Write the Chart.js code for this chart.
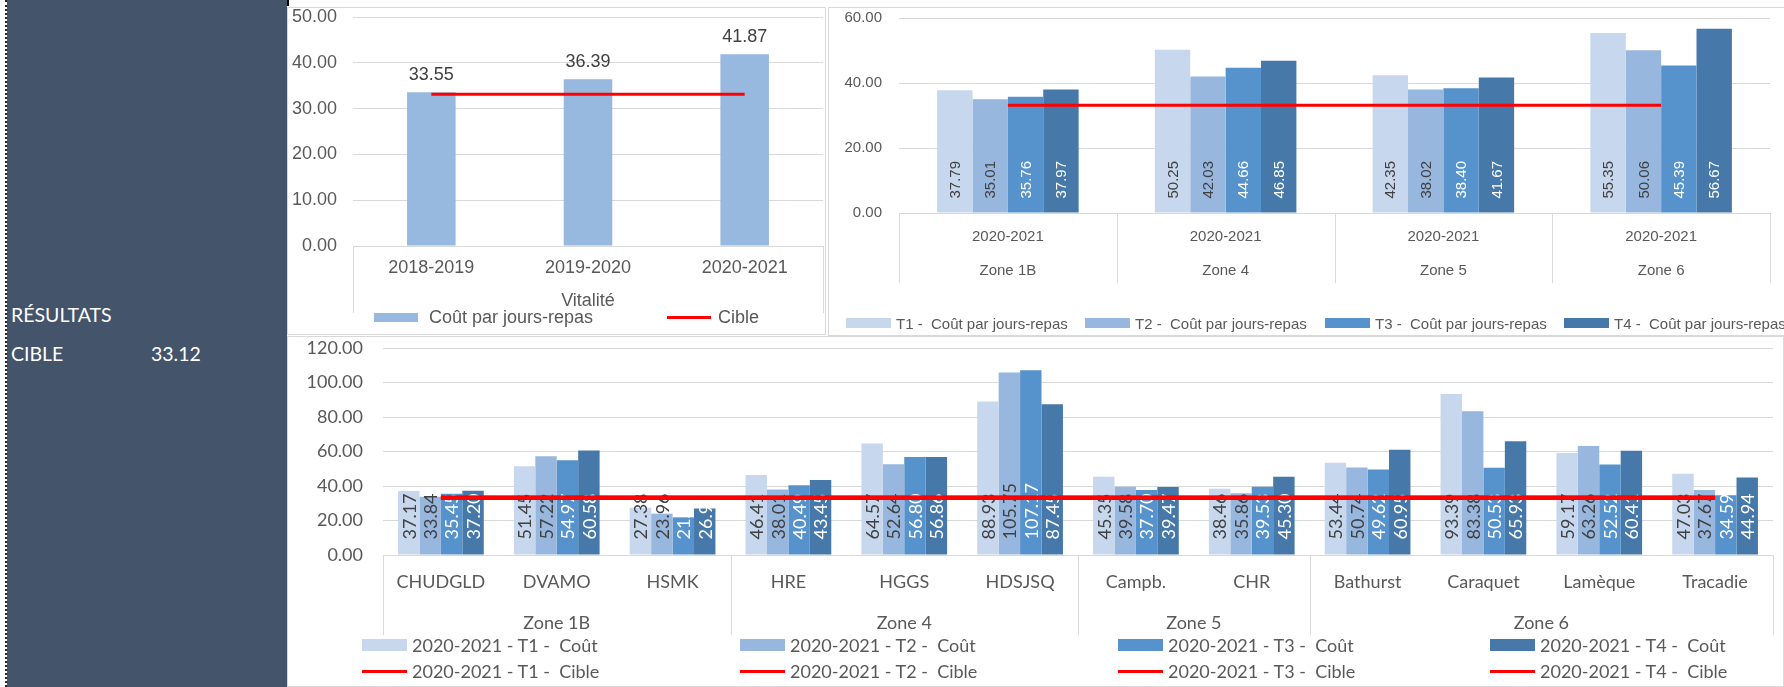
<!DOCTYPE html>
<html><head><meta charset="utf-8">
<script src="https://cdn.jsdelivr.net/npm/chart.js@4.4.0/dist/chart.umd.min.js"></script>
<style>
html,body{margin:0;padding:0;background:#fff;width:1784px;height:687px;overflow:hidden;position:relative;}
.box{position:absolute;border:1px solid #D9D9D9;box-sizing:border-box;background:#fff;}
canvas{position:absolute;}
.panel{position:absolute;left:7px;top:0;width:280px;height:687px;background:#44546A;}
.dots{position:absolute;left:5px;top:0;width:0;height:687px;border-left:2px dotted #222;}
.ptxt{position:absolute;color:#fff;font:19.5px Lato, sans-serif;line-height:24px;white-space:pre;}
.lg{position:absolute;display:flex;align-items:center;height:24px;white-space:pre;color:#595959;}
.lg span.sym{display:inline-block;}
</style></head>
<body>
<div class="dots"></div>
<div class="panel"></div>
<div style="position:absolute;left:287px;top:0;width:2px;height:6px;background:#000;"></div>
<div class="ptxt" id="pt1" style="left:11px;top:303px;">RÉSULTATS</div>
<div class="ptxt" id="pt2" style="left:11px;top:342px;">CIBLE</div>
<div class="ptxt" id="pt3" style="left:151px;top:342px;"></div>

<div class="box" style="left:287px;top:7px;width:539px;height:328px;"></div>
<div class="box" style="left:828px;top:7px;width:960px;height:329px;"></div>
<div class="box" style="left:287px;top:336px;width:1497px;height:351px;"></div>

<canvas id="c1" width="538" height="327" style="left:287px;top:7px;"></canvas>
<canvas id="c2" width="956" height="328" style="left:828px;top:7px;"></canvas>
<canvas id="c3" width="1497" height="351" style="left:287px;top:336px;"></canvas>

<script>
// ---------- DATA ----------
const TARGET = 33.12;

const chart1Categories = ['2018-2019', '2019-2020', '2020-2021'];
const chart1Groups = ['Vitalité', 'Vitalité', 'Vitalité'];
const chart1Cost = [33.55, 36.39, 41.87];
const chart1Target = [33.12, 33.12, 33.12];

const chart2Years = ['2020-2021', '2020-2021', '2020-2021', '2020-2021'];
const chart2Zones = ['Zone 1B', 'Zone 4', 'Zone 5', 'Zone 6'];
const chart2T1 = [37.79, 50.25, 42.35, 55.35];
const chart2T2 = [35.01, 42.03, 38.02, 50.06];
const chart2T3 = [35.76, 44.66, 38.40, 45.39];
const chart2T4 = [37.97, 46.85, 41.67, 56.67];
const chart2Target = [33.12, 33.12, 33.12, 33.12];

const chart3Sites = ['CHUDGLD', 'DVAMO', 'HSMK', 'HRE', 'HGGS', 'HDSJSQ', 'Campb.', 'CHR', 'Bathurst', 'Caraquet', 'Lamèque', 'Tracadie'];
const chart3Zones = ['Zone 1B', 'Zone 1B', 'Zone 1B', 'Zone 4', 'Zone 4', 'Zone 4', 'Zone 5', 'Zone 5', 'Zone 6', 'Zone 6', 'Zone 6', 'Zone 6'];
const chart3T1 = [37.17, 51.45, 27.38, 46.41, 64.57, 88.93, 45.35, 38.46, 53.44, 93.39, 59.17, 47.03];
const chart3T2 = [33.84, 57.22, 23.96, 38.01, 52.64, 105.75, 39.58, 35.86, 50.74, 83.38, 63.26, 37.67];
const chart3T3 = [35.45, 54.97, 21.83, 40.49, 56.80, 107.17, 37.70, 39.53, 49.62, 50.53, 52.52, 34.59];
const chart3T4 = [37.20, 60.58, 26.91, 43.45, 56.86, 87.45, 39.47, 45.30, 60.95, 65.93, 60.41, 44.94];
const chart3Target = [33.12, 33.12, 33.12, 33.12, 33.12, 33.12, 33.12, 33.12, 33.12, 33.12, 33.12, 33.12];

const chart1YTicks = {min: 0, max: 50, step: 10};
const chart2YTicks = {min: 0, max: 60, step: 20};
const chart3YTicks = {min: 0, max: 120, step: 20};

// ---------- STYLE ----------
const ARIAL = '"Liberation Sans", Arial, sans-serif';
const CALI = 'Lato, sans-serif';
const GRAY = '#595959';
const GRID = '#D9D9D9';
const RED = '#FF0000';
const C_V = '#97B8DF';
const C_T = ['#C7D7EE', '#97B7DF', '#5693CC', '#4679A9'];
const LBL_DARK = '#404040';

document.getElementById('pt3').textContent = TARGET.toFixed(2);

// ---------- PLUGINS ----------
const labelPlugin = {
  id: 'vlabels',
  afterDatasetDraw(chart, args) {
    const ds = chart.data.datasets[args.index];
    if (!ds.vlabel) return;
    const ctx = chart.ctx;
    ctx.save();
    ctx.font = ds.vlabel.font;
    ctx.fillStyle = ds.vlabel.color;
    args.meta.data.forEach((el, i) => {
      const txt = ds.data[i].toFixed(2);
      if (ds.vlabel.mode === 'above') {
        ctx.textAlign = 'center'; ctx.textBaseline = 'bottom';
        ctx.fillText(txt, el.x, el.y - ds.vlabel.gap);
      } else {
        ctx.save();
        ctx.translate(el.x, el.base - ds.vlabel.gap);
        ctx.rotate(-Math.PI / 2);
        ctx.textAlign = 'left'; ctx.textBaseline = 'middle';
        ctx.fillText(txt, 0, 1);
        ctx.restore();
      }
    });
    ctx.restore();
  }
};

function groupAxisPlugin(groups, cfg) {
  return {
    id: 'groupAxis',
    afterDraw(chart) {
      const x = chart.scales.x, ctx = chart.ctx;
      const n = chart.data.labels.length;
      const cw = x.width / n;
      const base = chart.chartArea.bottom;
      const runs = [];
      groups.forEach((name, i) => {
        if (!runs.length || runs[runs.length - 1].name !== name) runs.push({name, start: i, end: i});
        else runs[runs.length - 1].end = i;
      });
      ctx.save();
      ctx.strokeStyle = GRID; ctx.lineWidth = 1;
      const edges = new Set();
      runs.forEach(r => { edges.add(r.start); edges.add(r.end + 1); });
      edges.forEach(e => {
        const px = Math.round(x.left + e * cw) + 0.5;
        ctx.beginPath(); ctx.moveTo(px, base); ctx.lineTo(px, base + cfg.sepLen); ctx.stroke();
      });
      ctx.fillStyle = GRAY; ctx.font = cfg.font; ctx.textAlign = 'center'; ctx.textBaseline = 'middle';
      runs.forEach(r => {
        const cx = (x.getPixelForValue(r.start) + x.getPixelForValue(r.end)) / 2;
        ctx.fillText(r.name, cx, base + cfg.labelY);
      });
      ctx.restore();
    }
  };
}

function makeOptions(o) {
  return {
    responsive: false, animation: false, devicePixelRatio: 1,
    layout: {padding: o.padding},
    plugins: {legend: {display: false}, tooltip: {enabled: false}},
    scales: {
      x: {
        offset: true,
        ticks: {color: GRAY, font: o.xFont, padding: o.xPad, maxRotation: 0, autoSkip: false},
        grid: {display: false, drawTicks: false},
        border: {display: true, color: GRID, width: 1},
        afterFit(s) { s.height = o.xHeight; s.paddingLeft = 0; s.paddingRight = 0; }
      },
      y: {
        min: o.yt.min, max: o.yt.max,
        ticks: {stepSize: o.yt.step, color: GRAY, font: o.yFont, padding: o.yPad, callback: v => Number(v).toFixed(2)},
        grid: {color: GRID, lineWidth: 1, drawTicks: false},
        border: {display: false},
        afterFit(s) { s.width = o.yWidth; s.paddingTop = 0; s.paddingBottom = 0; }
      }
    }
  };
}

function lineDS(label, data, w) {
  return {type: 'line', label, data, borderColor: RED, backgroundColor: RED, borderWidth: w,
    pointRadius: 0, fill: false, order: 0, tension: 0};
}

// ---------- CHART 1 ----------
const ds1 = [
  {type: 'bar', label: 'Coût par jours-repas', data: chart1Cost, backgroundColor: C_V, order: 1,
   barPercentage: 0.31, categoryPercentage: 1.0,
   vlabel: {mode: 'above', font: '18px ' + ARIAL, color: LBL_DARK, gap: 8}},
  lineDS('Cible', chart1Target, 3)
];
new Chart(document.getElementById('c1'), {
  data: {labels: chart1Categories, datasets: ds1},
  options: makeOptions({padding: {left: 0, top: 10, right: 2, bottom: 0},
    xFont: {family: ARIAL, size: 18}, yFont: {family: ARIAL, size: 18},
    xPad: 11, yPad: 16, xHeight: 88, yWidth: 66, yt: chart1YTicks}),
  plugins: [labelPlugin, groupAxisPlugin(chart1Groups, {sepLen: 67, labelY: 55, font: '18px ' + ARIAL})]
});

// ---------- CHART 2 ----------
const t2 = [chart2T1, chart2T2, chart2T3, chart2T4];
const ds2 = t2.map((d, i) => ({
  type: 'bar', label: 'T' + (i + 1) + ' -  Coût par jours-repas', data: d, backgroundColor: C_T[i], order: 1,
  barPercentage: 1.0, categoryPercentage: 0.65,
  vlabel: {mode: 'base', font: '15px ' + ARIAL, color: i < 2 ? LBL_DARK : '#FFFFFF', gap: 14}
}));
ds2.push(lineDS('Cible', chart2Target, 3));
new Chart(document.getElementById('c2'), {
  data: {labels: chart2Years, datasets: ds2},
  options: makeOptions({padding: {left: 0, top: 11, right: 14, bottom: 0},
    xFont: {family: ARIAL, size: 15}, yFont: {family: ARIAL, size: 15},
    xPad: 15, yPad: 17, xHeight: 122, yWidth: 71, yt: chart2YTicks}),
  plugins: [labelPlugin, groupAxisPlugin(chart2Zones, {sepLen: 70, labelY: 58, font: '15px ' + ARIAL})]
});

// ---------- CHART 3 ----------
const t3 = [chart3T1, chart3T2, chart3T3, chart3T4];
const ds3 = t3.map((d, i) => ({
  type: 'bar', label: '2020-2021 - T' + (i + 1) + ' -  Coût', data: d, backgroundColor: C_T[i], order: 1,
  barPercentage: 1.0, categoryPercentage: 0.74,
  vlabel: {mode: 'base', font: '18px ' + CALI, color: i < 2 ? LBL_DARK : '#FFFFFF', gap: 15}
}));
const lines3 = [0, 1, 2, 3].map(i => lineDS('2020-2021 - T' + (i + 1) + ' -  Cible', chart3Target, 4));
new Chart(document.getElementById('c3'), {
  data: {labels: chart3Sites, datasets: ds3.concat(lines3)},
  options: makeOptions({padding: {left: 0, top: 12, right: 11, bottom: 0},
    xFont: {family: CALI, size: 18}, yFont: {family: CALI, size: 18},
    xPad: 16, yPad: 20, xHeight: 132, yWidth: 96, yt: chart3YTicks}),
  plugins: [labelPlugin, groupAxisPlugin(chart3Zones, {sepLen: 80, labelY: 68, font: '18px ' + CALI})]
});

// ---------- LEGENDS (HTML) ----------
function legendItem(x, cy, ds, o) {
  const d = document.createElement('div');
  d.className = 'lg';
  d.style.left = x + 'px'; d.style.top = (cy - 12) + 'px';
  d.style.font = o.font;
  const s = document.createElement('span');
  s.className = 'sym';
  const isLine = ds.type === 'line';
  s.style.width = o.w + 'px';
  s.style.height = (isLine ? o.lh : o.h) + 'px';
  s.style.background = isLine ? ds.borderColor : ds.backgroundColor;
  s.style.marginRight = o.gap + 'px';
  const t = document.createElement('span');
  t.textContent = ds.label;
  d.append(s, t);
  document.body.appendChild(d);
}
legendItem(374, 317, ds1[0], {font: '18px ' + ARIAL, w: 44, h: 9, lh: 3, gap: 11});
legendItem(667, 317, ds1[1], {font: '18px ' + ARIAL, w: 44, h: 9, lh: 3, gap: 7});
[846, 1085, 1325, 1564].forEach((x, i) => legendItem(x, 323, ds2[i], {font: '15px ' + ARIAL, w: 45, h: 10, lh: 3, gap: 5}));
[362, 740, 1118, 1490].forEach((x, i) => {
  legendItem(x, 645, ds3[i], {font: '18px ' + CALI, w: 45, h: 12, lh: 3, gap: 5});
  legendItem(x, 671, lines3[i], {font: '18px ' + CALI, w: 45, h: 12, lh: 3, gap: 5});
});
</script>
</body></html>
